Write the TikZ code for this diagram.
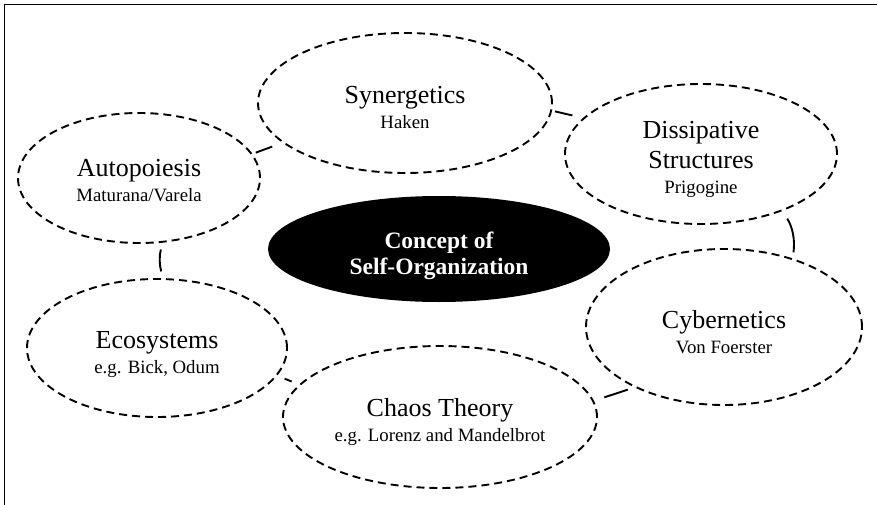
\documentclass[tikz,border=0pt]{standalone}
\usepackage{fontspec}
\setmainfont{Liberation Serif}
\usetikzlibrary{shapes.geometric}
\newcommand{\subline}{\fontsize{18.8}{22}\selectfont}
% centred text block, set lower by #1 without changing the box it reports
\newcommand{\lowtext}[2]{\raisebox{-#1}[\height][\depth]{\begin{tabular}{@{}c@{}}#2\end{tabular}}}
\begin{document}
\begin{tikzpicture}[x=1pt,y=-1pt,
  topic/.style={ellipse, draw, dash pattern=on 8pt off 5pt, line width=1.9pt,
    inner sep=0pt, align=center, font=\fontsize{26}{30}\selectfont},
  core/.style={ellipse, fill=black, text=white, inner sep=0pt, align=center,
    font=\bfseries\fontsize{23.5}{26}\selectfont},
  link/.style={line width=1.9pt}]
\useasboundingbox (0,0) rectangle (877,505);

% frame
\draw[line width=1.5pt] (4.3,505) -- (4.3,4.3) -- (877,4.3);

% central concept
\node[core, minimum width=342pt, minimum height=106pt] (core) at (439,249)
  {\lowtext{7pt}{Concept of\\Self-Organization}};

% surrounding research traditions
\node[topic, minimum width=294pt, minimum height=140pt] (syn) at (405,103)
  {\lowtext{7pt}{Synergetics\\[-5.5pt]\subline Haken}};
\node[topic, minimum width=272pt, minimum height=140pt] (dis) at (701,154)
  {\lowtext{6pt}{Dissipative\\Structures\\[-5.5pt]\subline Prigogine}};
\node[topic, minimum width=242pt, minimum height=130pt] (aut) at (139,178)
  {\lowtext{5pt}{Autopoiesis\\[-5.5pt]\subline Maturana/Varela}};
\node[topic, minimum width=276pt, minimum height=156pt] (cyb) at (724,327)
  {\lowtext{8pt}{Cybernetics\\[-5.5pt]\subline Von Foerster}};
\node[topic, minimum width=260pt, minimum height=138pt] (eco) at (157,348)
  {\lowtext{7pt}{Ecosystems\\[-5.5pt]\subline e.g. Bick, Odum}};
\node[topic, minimum width=314pt, minimum height=142pt] (cha) at (440,417)
  {\lowtext{6pt}{Chaos Theory\\[-5.5pt]\subline e.g. Lorenz and Mandelbrot}};

% links around the ring
\draw[link, shorten <=3.5pt, shorten >=11pt] (aut.12) -- (syn.198);
\draw[link, shorten <=3pt, shorten >=11pt] (syn.-3) -- (dis.163);
\draw[link, shorten <=9pt, shorten >=6pt] (dis.-35) to[bend left=20] (cyb.45);
\draw[link, shorten <=7pt, shorten >=11pt] (cyb.214) -- (cha.6);
\draw[link, shorten <=8pt, shorten >=8pt] (cha.167) -- (eco.-13);
\draw[link, shorten <=7pt, shorten >=7pt] (aut.-70) to[bend right=15] (eco.85);
\end{tikzpicture}
\end{document}
